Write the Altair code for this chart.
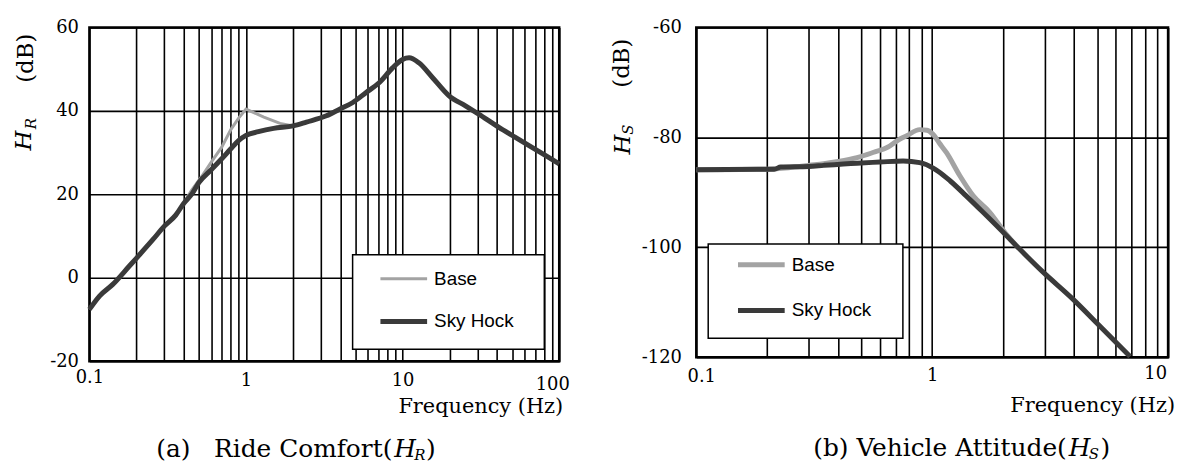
import altair as alt
import pandas as pd

# ---------------- data ----------------
# (a) Ride Comfort H_R  [dB]
rc_sky_f = [0.1, 0.116, 0.141, 0.18, 0.2, 0.254, 0.3, 0.356, 0.4, 0.454, 0.5, 0.6, 0.7, 0.8,
            0.9, 1.0, 1.2, 1.5, 2.0, 2.43, 3.26, 3.96, 4.81, 5.85, 7.11, 8.63, 10.0, 11.0,
            12.7, 15.5, 19.8, 25.2, 30.6, 41.0, 52.2, 66.6, 85.1, 100.0]
rc_sky_v = [-7.6, -4.4, -1.6, 2.8, 4.7, 9.1, 12.3, 15.0, 17.8, 20.2, 22.8, 25.9, 28.5, 30.9,
            32.9, 34.1, 35.0, 35.8, 36.4, 37.3, 38.8, 40.4, 42.0, 44.4, 46.8, 50.3, 52.3, 52.7,
            51.5, 48.0, 43.6, 41.2, 39.2, 36.1, 33.7, 31.3, 28.9, 27.3]
rc_base_f = [0.1, 0.116, 0.141, 0.18, 0.2, 0.254, 0.3, 0.356, 0.4, 0.45, 0.52, 0.6, 0.7, 0.8,
             0.9, 1.0, 1.3, 1.65, 2.0]
rc_base_v = [-7.6, -4.4, -1.6, 2.8, 4.7, 9.1, 12.3, 15.0, 17.9, 21.0, 24.2, 27.7, 31.3, 35.5,
             38.3, 40.4, 38.5, 37.0, 36.4]

# (b) Vehicle Attitude H_S  [dB]
va_sky_f = [0.1, 0.2, 0.214, 0.228, 0.3, 0.347, 0.48, 0.6, 0.753, 0.885, 1.01, 1.07, 1.19,
            1.39, 1.64, 1.99, 2.33, 2.93, 3.92, 5.07, 6.9]
va_sky_v = [-85.9, -85.8, -85.8, -85.4, -85.3, -85.1, -84.7, -84.5, -84.3, -84.6, -85.6, -86.3,
            -87.9, -90.6, -93.6, -97.2, -100.2, -104.4, -109.3, -114.1, -119.9]
va_base_f = [0.1, 0.2, 0.25, 0.3, 0.347, 0.4, 0.48, 0.55, 0.66, 0.73, 0.78, 0.885, 0.95, 1.01,
             1.07, 1.15, 1.31, 1.49, 1.75, 2.05, 2.33]
va_base_v = [-85.9, -85.8, -85.5, -85.1, -84.8, -84.4, -83.7, -82.9, -81.6, -80.3, -79.7, -78.6,
             -78.7, -79.5, -81.0, -82.8, -87.0, -90.6, -93.6, -97.5, -100.2]

series = ["Base", "Sky Hock"]
colors = ["#a3a3a3", "#3a3a3a"]

rc_xgrid = [0.1, 0.2, 0.3, 0.4, 0.5, 0.6, 0.7, 0.8, 0.9, 1, 2, 3, 4, 5, 6, 7, 8, 9,
            10, 20, 30, 40, 50, 60, 70, 80, 90, 100]
va_xgrid = [0.1, 0.2, 0.3, 0.4, 0.5, 0.6, 0.7, 0.8, 0.9, 1, 2, 3, 4, 5, 6, 7, 8, 9, 10]
rc_yticks = [-20, 0, 20, 40, 60]
va_yticks = [-120, -100, -80, -60]

SERIF = "DejaVu Serif"
SANS = "Liberation Sans"
ONE = alt.Data(values=[{}])
NB = "\u00a0"


def txt(t, x, y, size, font=SERIF, style="normal", align="center", angle=0, baseline="middle"):
    kw = dict(text=t, font=font, fontSize=size, fontStyle=style, align=align,
              baseline=baseline, color="black")
    if angle:
        kw["angle"] = angle
    return alt.Chart(ONE).mark_text(**kw).encode(x=alt.value(x), y=alt.value(y))


def rule(x1, x2, y, color, width):
    return alt.Chart(ONE).mark_rule(color=color, strokeWidth=width).encode(
        x=alt.value(x1), x2=alt.value(x2), y=alt.value(y))


def cond(pairs, default):
    # per-label offsets: pairs of (tick value, offset)
    expr = " : ".join(f"datum.value == {v} ? {o}" for v, o in pairs) + f" : {default}"
    return alt.ExprRef(expr)


def panel(base_f, base_v, sky_f, sky_v, xdom, ydom, xgrid, yticks, w, h,
          bbox, base_w, sky_w, base_interp, ylab_pad, xoff, xpad, legend, ytitle,
          caption, freq_pos):
    dfb = pd.DataFrame({"f": base_f, "v": base_v, "s": series[0]})
    dfs = pd.DataFrame({"f": sky_f, "v": sky_v, "s": series[1]})
    lab = " : ".join(f"datum.value == {d} ? '{d}'" for d in [0.1, 1, 10, 100]) + " : ''"
    x = alt.X("f:Q", scale=alt.Scale(type="log", domain=xdom, nice=False),
              axis=alt.Axis(values=xgrid, grid=True, gridColor="black", gridWidth=1.6,
                            ticks=False, domain=False, labelExpr=lab, labelFont=SERIF,
                            labelFontSize=18, labelColor="black",
                            labelPadding=cond(xpad, 11), labelOffset=cond(xoff, 0),
                            labelFlush=False, title=None))
    y = alt.Y("v:Q", scale=alt.Scale(domain=ydom, nice=False, zero=False),
              axis=alt.Axis(values=yticks, grid=True, gridColor="black", gridWidth=1.6,
                            ticks=False, domain=False, labelExpr="'' + datum.value",
                            labelFont=SERIF, labelFontSize=18, labelColor="black",
                            labelPadding=ylab_pad, title=None))
    lb = alt.Chart(dfb).mark_line(color=colors[0], strokeWidth=base_w,
                                  interpolate=base_interp).encode(x=x, y=y, order="f:Q")
    ls = alt.Chart(dfs).mark_line(color=colors[1], strokeWidth=sky_w,
                                  interpolate="monotone").encode(x=x, y=y, order="f:Q")

    bx1, bx2, by1, by2 = bbox
    bounds = alt.Chart(ONE).mark_rect(opacity=0).encode(
        x=alt.value(bx1), x2=alt.value(bx2), y=alt.value(by1), y2=alt.value(by2))

    lx1, lx2, ly1, ly2, sx1, sx2, yb, ysk, tx = legend
    box = alt.Chart(ONE).mark_rect(fill="white", stroke="black", strokeWidth=1.5).encode(
        x=alt.value(lx1), x2=alt.value(lx2), y=alt.value(ly1), y2=alt.value(ly2))
    leg = [box,
           rule(sx1, sx2, yb, colors[0], base_w),
           rule(sx1, sx2, ysk, colors[1], sky_w),
           txt(series[0], tx, yb, 19, font=SANS, align="left"),
           txt(series[1], tx, ysk, 19, font=SANS, align="left")]

    (sub, dbx, dby, hx, hy, sx, sy) = ytitle
    yt = [txt("(dB)", dbx, dby, 23, angle=270),
          txt("H", hx, hy, 23, style="italic", angle=270),
          txt(sub, sx, sy, 15, style="italic", angle=270)]

    (ctext, cx, cy) = caption
    cap = [txt(ctext, cx, cy, 25, align="right"),
           txt("H", cx + 2, cy, 25, style="italic", align="left"),
           txt(sub, cx + 22, cy + 6, 15, style="italic", align="left"),
           txt(")", cx + 34, cy, 25, align="left")]

    fq = txt("Frequency (Hz)", freq_pos[0], freq_pos[1], 21, align="right")

    return alt.layer(bounds, lb, ls, *leg, *yt, *cap, fq).properties(width=w, height=h)


left = panel(rc_base_f, rc_base_v, rc_sky_f, rc_sky_v, [0.1, 100], [-20, 60],
             rc_xgrid, rc_yticks, 473, 336,
             bbox=(-88, 512, -23, 440), base_w=3, sky_w=5, base_interp="linear",
             ylab_pad=11, xoff=[(100, -7)], xpad=[(0.1, 8), (100, 15)],
             legend=(265, 458, 229, 324, 293, 340, 253, 296, 347),
             ytitle=("R", -64, 31, -66, 114, -59, 97),
             caption=(f"(a){NB}{NB}{NB}Ride Comfort(", 305, 425),
             freq_pos=(477, 382))

right = panel(va_base_f, va_base_v, va_sky_f, va_sky_v, [0.1, 10], [-120, -60],
              va_xgrid, va_yticks, 475, 332,
              bbox=(-95, 486, -24, 439), base_w=5, sky_w=5, base_interp="monotone",
              ylab_pad=15, xoff=[(0.1, 5), (10, -13)], xpad=[(1, 9), (10, 7)],
              legend=(12, 208, 218, 313, 42, 89, 239, 285, 96),
              ytitle=("S", -75, 36, -74, 118, -69, 103),
              caption=("(b) Vehicle Attitude(", 373, 424),
              freq_pos=(482, 381))

chart = alt.hconcat(left, right, spacing=0).properties(
    padding=0, background="white"
).configure_view(stroke="black", strokeWidth=2.5)

chart.save("out.html", embed_options={"renderer": "svg", "actions": False})
